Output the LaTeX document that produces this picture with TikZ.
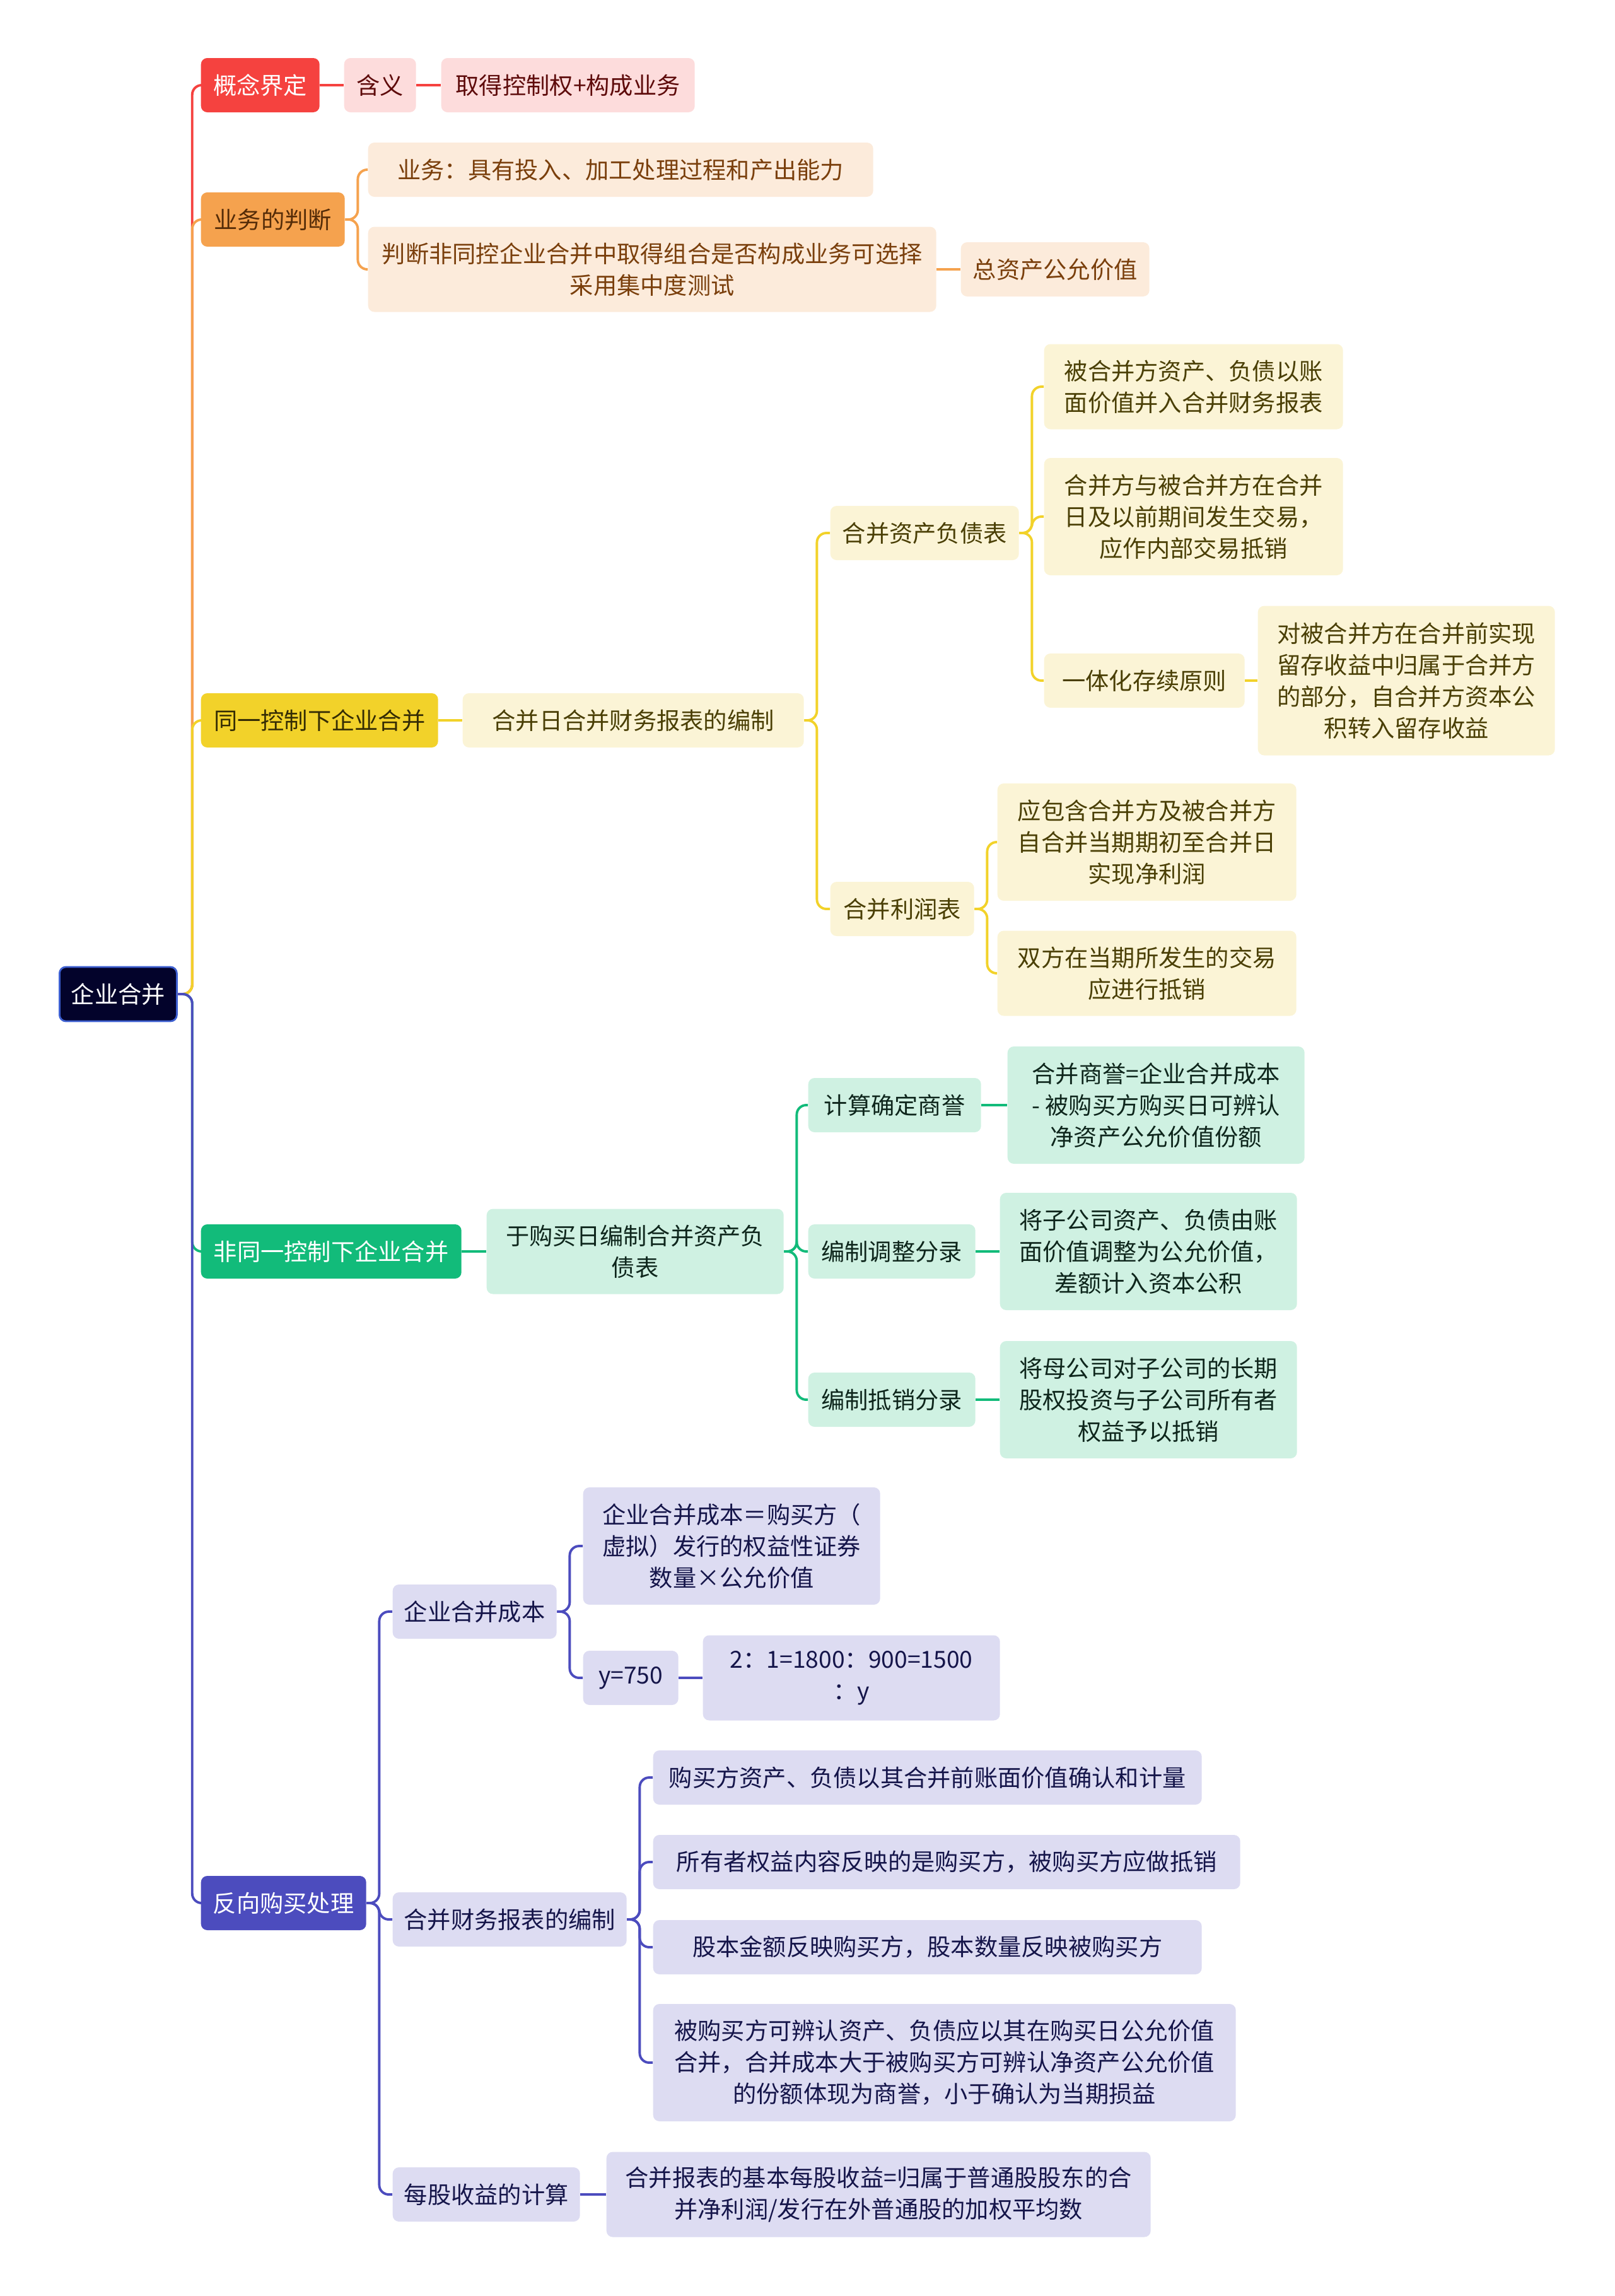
\documentclass[tikz,border=0pt]{standalone}
\usepackage{fontspec}
\setmainfont{Noto Sans CJK SC}
\usepackage{tikz}
\usetikzlibrary{positioning,calc}
\definecolor{rootfill}{HTML}{03032B}
\definecolor{rootedge}{HTML}{3D5FD0}
\definecolor{mapred}{HTML}{F5423F}
\definecolor{mapredsoft}{HTML}{FDDCDC}
\definecolor{mapredtext}{HTML}{5E0B0B}
\definecolor{maporange}{HTML}{F5A24E}
\definecolor{maporangesoft}{HTML}{FCEBDB}
\definecolor{maporangetext}{HTML}{7A3F0C}
\definecolor{mapyellow}{HTML}{F2D22A}
\definecolor{mapyellowsoft}{HTML}{FBF4D6}
\definecolor{mapyellowtext}{HTML}{4A3F05}
\definecolor{mapgreen}{HTML}{12BB7A}
\definecolor{mapgreensoft}{HTML}{CFF1E2}
\definecolor{mapgreentext}{HTML}{0E261C}
\definecolor{mappurple}{HTML}{4C4CBE}
\definecolor{mappurplesoft}{HTML}{DDDCF2}
\definecolor{mappurpletext}{HTML}{15154A}

\begin{document}
\begin{tikzpicture}[
box/.style={anchor=west,rounded corners=1mm,minimum height=8.6mm,inner xsep=1mm,align=center,
  font=\fontsize{10.6pt}{14.2pt}\selectfont},
two/.style={minimum height=13.5mm},three/.style={minimum height=18.6mm},four/.style={minimum height=23.7mm},
rootbox/.style={box,fill=rootfill,draw=rootedge,thick,text=white},
redtop/.style={box,fill=mapred,text=white},redsub/.style={box,fill=mapredsoft,text=mapredtext},
orangetop/.style={box,fill=maporange,text=maporangetext!70!black},orangesub/.style={box,fill=maporangesoft,text=maporangetext},
yellowtop/.style={box,fill=mapyellow,text=mapyellowtext!70!black},yellowsub/.style={box,fill=mapyellowsoft,text=mapyellowtext},
greentop/.style={box,fill=mapgreen,text=white},greensub/.style={box,fill=mapgreensoft,text=mapgreentext},
purpletop/.style={box,fill=mappurple,text=white},purplesub/.style={box,fill=mappurplesoft,text=mappurpletext},
link/.style={line width=1.1pt,rounded corners=1.5mm}]
\useasboundingbox (0,0) rectangle (25.6,-36.4);
% root and first level
\node[rootbox,minimum width=1.86cm] (root) at (0.93,-15.76) {企业合并};
\node[redtop,minimum width=1.88cm] (concept) at (3.18,-1.35) {概念界定};
\node[orangetop,minimum width=2.28cm] (judge) at (3.18,-3.48) {业务的判断};
\node[yellowtop,minimum width=3.76cm] (same) at (3.18,-11.42) {同一控制下企业合并};
\node[greentop,minimum width=4.13cm] (diff) at (3.18,-19.84) {非同一控制下企业合并};
\node[purpletop,minimum width=2.62cm] (reverse) at (3.18,-30.17) {反向购买处理};
% red branch
\node[redsub,minimum width=1.14cm] (meaning) at (5.45,-1.35) {含义};
\node[redsub,minimum width=4.02cm] (control) at (6.99,-1.35) {取得控制权+构成业务};
% orange branch
\node[orangesub,minimum width=8.01cm] (business) at (5.83,-2.69) {业务：具有投入、加工处理过程和产出能力};
\node[orangesub,two,minimum width=9.01cm] (test) at (5.83,-4.27) {判断非同控企业合并中取得组合是否构成业务可选择\\采用集中度测试};
\node[orangesub,minimum width=2.99cm] (fairvalue) at (15.23,-4.27) {总资产公允价值};
% yellow branch
\node[yellowsub,minimum width=5.41cm] (dayreport) at (7.33,-11.42) {合并日合并财务报表的编制};
\node[yellowsub,minimum width=2.99cm] (balance) at (13.16,-8.45) {合并资产负债表};
\node[yellowsub,minimum width=2.28cm] (income) at (13.16,-14.41) {合并利润表};
\node[yellowsub,two,minimum width=4.74cm] (bookvalue) at (16.55,-6.13) {被合并方资产、负债以账\\面价值并入合并财务报表};
\node[yellowsub,three,minimum width=4.74cm] (inner) at (16.55,-8.19) {合并方与被合并方在合并\\日及以前期间发生交易，\\应作内部交易抵销};
\node[yellowsub,minimum width=3.18cm] (continuity) at (16.55,-10.79) {一体化存续原则};
\node[yellowsub,four,minimum width=4.71cm] (retained) at (19.94,-10.79) {对被合并方在合并前实现\\留存收益中归属于合并方\\的部分，自合并方资本公\\积转入留存收益};
\node[yellowsub,three,minimum width=4.74cm] (netprofit) at (15.81,-13.35) {应包含合并方及被合并方\\自合并当期期初至合并日\\实现净利润};
\node[yellowsub,two,minimum width=4.74cm] (offset) at (15.81,-15.43) {双方在当期所发生的交易\\应进行抵销};
% green branch
\node[greensub,two,minimum width=4.71cm] (buyday) at (7.71,-19.84) {于购买日编制合并资产负\\债表};
\node[greensub,minimum width=2.74cm] (goodwill) at (12.81,-17.52) {计算确定商誉};
\node[greensub,minimum width=2.65cm] (adjust) at (12.81,-19.84) {编制调整分录};
\node[greensub,minimum width=2.65cm] (eliminate) at (12.81,-22.19) {编制抵销分录};
\node[greensub,three,minimum width=4.71cm] (goodwillf) at (15.97,-17.52) {合并商誉=企业合并成本\\- 被购买方购买日可辨认\\净资产公允价值份额};
\node[greensub,three,minimum width=4.71cm] (adjustf) at (15.85,-19.84) {将子公司资产、负债由账\\面价值调整为公允价值，\\差额计入资本公积};
\node[greensub,three,minimum width=4.71cm] (eliminatef) at (15.85,-22.19) {将母公司对子公司的长期\\股权投资与子公司所有者\\权益予以抵销};
% purple branch
\node[purplesub,minimum width=2.6cm] (cost) at (6.22,-25.55) {企业合并成本};
\node[purplesub,minimum width=3.71cm] (statements) at (6.22,-30.43) {合并财务报表的编制};
\node[purplesub,minimum width=2.97cm] (eps) at (6.22,-34.79) {每股收益的计算};
\node[purplesub,three,minimum width=4.71cm] (costf) at (9.24,-24.51) {企业合并成本＝购买方（\\虚拟）发行的权益性证券\\数量×公允价值};
\node[purplesub,minimum width=1.51cm] (yval) at (9.24,-26.6) {y=750};
\node[purplesub,two,minimum width=4.71cm] (ratio) at (11.14,-26.6) {2：1=1800：900=1500\\：y};
\node[purplesub,minimum width=8.7cm] (acquirer) at (10.35,-28.18) {购买方资产、负债以其合并前账面价值确认和计量};
\node[purplesub,minimum width=9.31cm] (equity) at (10.35,-29.52) {所有者权益内容反映的是购买方，被购买方应做抵销};
\node[purplesub,minimum width=8.7cm] (shares) at (10.35,-30.87) {股本金额反映购买方，股本数量反映被购买方};
\node[purplesub,three,minimum width=9.24cm] (acquiree) at (10.35,-32.7) {被购买方可辨认资产、负债应以其在购买日公允价值\\合并，合并成本大于被购买方可辨认净资产公允价值\\的份额体现为商誉，小于确认为当期损益};
\node[purplesub,two,minimum width=8.63cm] (epsf) at (9.61,-34.79) {合并报表的基本每股收益=归属于普通股股东的合\\并净利润/发行在外普通股的加权平均数};
% trunk, drawn top to bottom so later colours lie on top
\draw[link,draw=mapred] (root.east) -- ++(0.23,0) |- (concept.west);
\draw[link,draw=maporange] (root.east) -- ++(0.23,0) |- (judge.west);
\draw[link,draw=mapyellow] (root.east) -- ++(0.23,0) |- (same.west);
\draw[link,draw=mapgreen] (root.east) -- ++(0.23,0) |- (diff.west);
\draw[link,draw=mappurple] (root.east) -- ++(0.23,0) |- (reverse.west);
% branch connectors
\draw[link,draw=mapred] (concept) -- (meaning) -- (control);
\foreach \c in {business,test}
  \draw[link,draw=maporange] (judge.east) -- ++(0.2,0) |- (\c.west);
\draw[link,draw=maporange] (test) -- (fairvalue);
\draw[link,draw=mapyellow] (same) -- (dayreport);
\foreach \c in {balance,income}
  \draw[link,draw=mapyellow] (dayreport.east) -- ++(0.2,0) |- (\c.west);
\foreach \c in {bookvalue,inner,continuity}
  \draw[link,draw=mapyellow] (balance.east) -- ++(0.2,0) |- (\c.west);
\draw[link,draw=mapyellow] (continuity) -- (retained);
\foreach \c in {netprofit,offset}
  \draw[link,draw=mapyellow] (income.east) -- ++(0.2,0) |- (\c.west);
\draw[link,draw=mapgreen] (diff) -- (buyday);
\foreach \c in {goodwill,adjust,eliminate}
  \draw[link,draw=mapgreen] (buyday.east) -- ++(0.2,0) |- (\c.west);
\draw[link,draw=mapgreen] (goodwill) -- (goodwillf);
\draw[link,draw=mapgreen] (adjust) -- (adjustf);
\draw[link,draw=mapgreen] (eliminate) -- (eliminatef);
\foreach \c in {cost,statements,eps}
  \draw[link,draw=mappurple] (reverse.east) -- ++(0.2,0) |- (\c.west);
\foreach \c in {costf,yval}
  \draw[link,draw=mappurple] (cost.east) -- ++(0.2,0) |- (\c.west);
\draw[link,draw=mappurple] (yval) -- (ratio);
\foreach \c in {acquirer,equity,shares,acquiree}
  \draw[link,draw=mappurple] (statements.east) -- ++(0.2,0) |- (\c.west);
\draw[link,draw=mappurple] (eps) -- (epsf);
\end{tikzpicture}
\end{document}
